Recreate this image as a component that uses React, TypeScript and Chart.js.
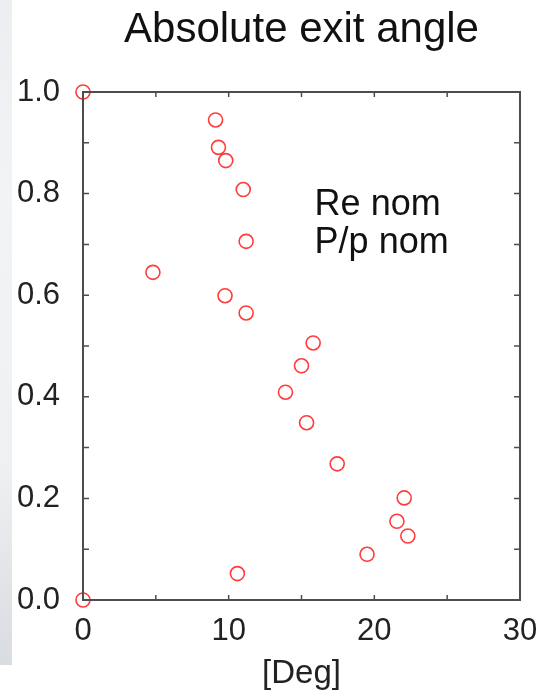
import { useEffect, useRef } from "react";
import { Chart, registerables } from "chart.js";

Chart.register(...registerables);

const chartTitle = "Absolute exit angle";
const xAxisTitle = "[Deg]";
const noteLines = ["Re nom", "P/p nom"];

// exit angle [deg] (x) vs fraction (y)
const exitAngleDeg = [0, 0, 9.1, 9.3, 9.8, 11.0, 11.2, 4.8, 9.75, 11.2, 15.8, 15.0, 13.9, 15.35, 17.45, 22.05, 21.55, 22.3, 19.5, 10.6];
const fractionValues = [1.0, 0.0, 0.945, 0.891, 0.865, 0.808, 0.706, 0.645, 0.599, 0.565, 0.506, 0.461, 0.409, 0.349, 0.268, 0.201, 0.155, 0.126, 0.09, 0.052];

const xMin = 0;
const xMax = 30;
const xStep = 5;
const yMin = 0;
const yMax = 1;
const yStep = 0.1;

const FONT = "'Liberation Sans', Arial, Helvetica, sans-serif";

const framePlugin = {
  id: "frameAndText",
  afterDatasetsDraw(chart: any) {
    const { ctx, chartArea: a, scales } = chart;
    const xs = scales.x;
    const ys = scales.y;
    ctx.save();
    ctx.strokeStyle = "#4d4d4d";
    ctx.lineWidth = 2;
    ctx.strokeRect(a.left, a.top, a.right - a.left, a.bottom - a.top);
    ctx.lineWidth = 1.5;
    ctx.beginPath();
    xs.ticks.forEach((t: any) => {
      const px = xs.getPixelForValue(t.value);
      ctx.moveTo(px, a.bottom);
      ctx.lineTo(px, a.bottom - 5);
      ctx.moveTo(px, a.top);
      ctx.lineTo(px, a.top + 5);
    });
    ys.ticks.forEach((t: any) => {
      const py = ys.getPixelForValue(t.value);
      ctx.moveTo(a.left, py);
      ctx.lineTo(a.left + 6, py);
      ctx.moveTo(a.right, py);
      ctx.lineTo(a.right - 6, py);
    });
    ctx.stroke();

    // title, centred over the plot area
    ctx.fillStyle = "#111";
    ctx.font = `42px ${FONT}`;
    ctx.textAlign = "center";
    ctx.textBaseline = "alphabetic";
    ctx.fillText(chartTitle, (a.left + a.right) / 2, 42);

    // note inside the plot
    ctx.font = `36px ${FONT}`;
    ctx.textAlign = "left";
    const nx = xs.getPixelForValue(15.9);
    ctx.fillText(noteLines[0], nx, ys.getPixelForValue(0.758));
    ctx.fillText(noteLines[1], nx, ys.getPixelForValue(0.683));
    ctx.restore();
  },
};

export default function App() {
  const ref = useRef<HTMLCanvasElement | null>(null);

  useEffect(() => {
    if (!ref.current) return;
    const points = exitAngleDeg.map((x, i) => ({ x, y: fractionValues[i] }));
    const chart = new Chart(ref.current, {
      type: "scatter",
      data: {
        datasets: [
          {
            data: points,
            pointStyle: "circle",
            pointRadius: 7,
            pointHoverRadius: 7,
            pointBorderWidth: 1.6,
            borderColor: "#ff3b3b",
            backgroundColor: "rgba(0,0,0,0)",
            pointBackgroundColor: "rgba(0,0,0,0)",
            pointBorderColor: "#ff3b3b",
            clip: false as any,
          },
        ],
      },
      options: {
        responsive: false,
        animation: false,
        devicePixelRatio: 1,
        layout: { padding: { top: 92, right: 19, bottom: 0, left: 0 } },
        plugins: {
          legend: { display: false },
          title: { display: false },
          tooltip: { enabled: false },
        },
        scales: {
          x: {
            type: "linear",
            min: xMin,
            max: xMax,
            grid: { display: false, drawTicks: false },
            border: { display: false },
            ticks: {
              stepSize: xStep,
              autoSkip: false,
              maxRotation: 0,
              padding: 13,
              color: "#222",
              font: { family: FONT, size: 31 },
              callback: (v: any) => (Math.round(Number(v)) % 10 === 0 ? String(v) : ""),
            },
            title: {
              display: true,
              text: xAxisTitle,
              color: "#222",
              font: { family: FONT, size: 33 },
              padding: { top: 9, bottom: 0 },
            },
            afterFit: (s: any) => {
              s.height = 94;
              s.paddingLeft = 0;
              s.paddingRight = 0;
            },
          },
          y: {
            type: "linear",
            min: yMin,
            max: yMax,
            grid: { display: false, drawTicks: false },
            border: { display: false },
            ticks: {
              stepSize: yStep,
              autoSkip: false,
              padding: 23,
              color: "#222",
              font: { family: FONT, size: 31 },
              callback: (v: any) => (Math.round(Number(v) * 10) % 2 === 0 ? Number(v).toFixed(1) : ""),
            },
            afterFit: (s: any) => {
              s.width = 83;
              s.paddingTop = 0;
              s.paddingBottom = 0;
            },
          },
        },
      },
      plugins: [framePlugin],
    });
    return () => chart.destroy();
  }, []);

  return (
    <div style={{ position: "absolute", left: 0, top: 0, width: 539, height: 694, background: "#fff", overflow: "hidden" }}>
      <div
        style={{
          position: "absolute",
          left: 0,
          top: 0,
          width: 12,
          height: 665,
          background: "linear-gradient(to bottom, #eceef1 0%, #f2f3f5 30%, #eef0f2 70%, #d9dce0 100%)",
        }}
      />
      <canvas ref={ref} width={539} height={694} style={{ position: "absolute", left: 0, top: 0, width: 539, height: 694 }} />
    </div>
  );
}
